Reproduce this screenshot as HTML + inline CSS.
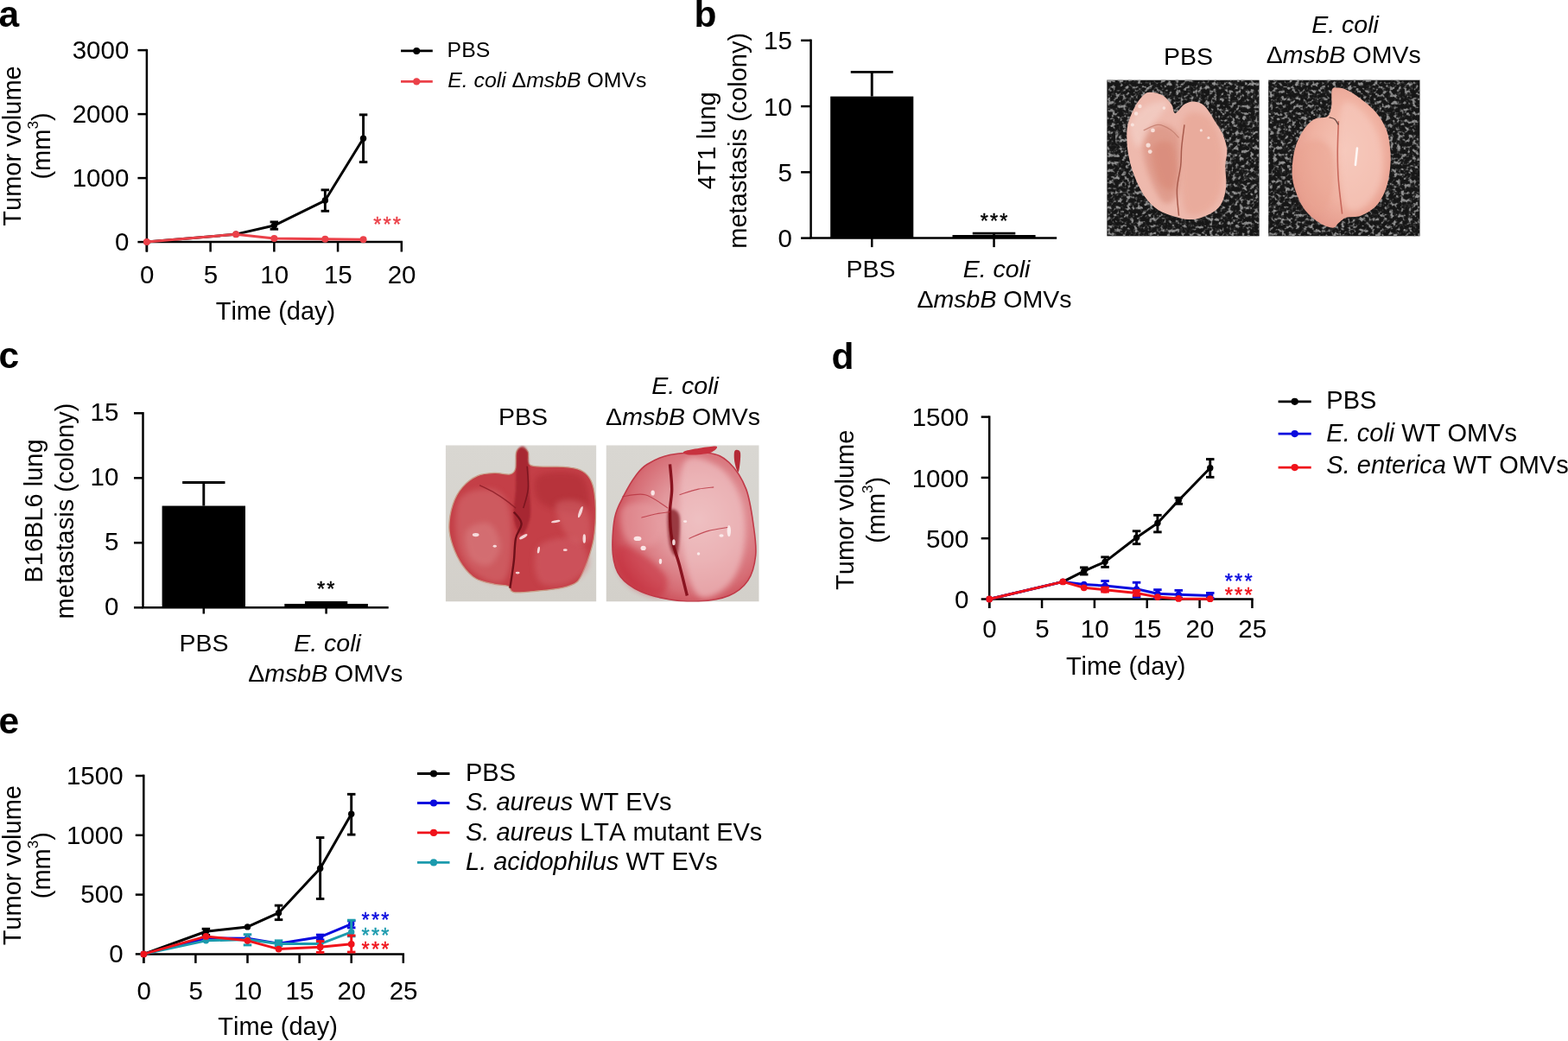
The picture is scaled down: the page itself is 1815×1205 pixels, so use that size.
<!DOCTYPE html><html><head><meta charset="utf-8"><title>Figure</title><style>html,body{margin:0;padding:0;background:#fff;overflow:hidden}svg{display:block}text{font-family:"Liberation Sans", Arial, Helvetica, sans-serif;font-kerning:none;}</style></head><body>
<svg width="1815" height="1205" viewBox="0 0 1815 1205">
<defs>
<clipPath id="cb1"><rect x="1281.2" y="92.4" width="176.6" height="181.2"/></clipPath>
<clipPath id="cb2"><rect x="1468.1" y="92.4" width="175.6" height="181.2"/></clipPath>
<clipPath id="cc1"><rect x="515.7" y="515.3" width="174.7" height="181.2"/></clipPath>
<clipPath id="cc2"><rect x="701.5" y="515.3" width="177.2" height="181.2"/></clipPath>
<filter id="speck" x="0" y="0" width="100%" height="100%" color-interpolation-filters="sRGB"><feTurbulence type="fractalNoise" baseFrequency="0.23" numOctaves="2" seed="11"/><feColorMatrix type="matrix" values="0 0 0 0 0.58  0 0 0 0 0.58  0 0 0 0 0.58  1 0 0 0 0"/><feComponentTransfer><feFuncA type="table" tableValues="0 0 0 0 0 0.2 0.8 1 1 1"/></feComponentTransfer><feGaussianBlur stdDeviation="0.35"/></filter>
<filter id="blur3" x="-20%" y="-20%" width="140%" height="140%"><feGaussianBlur stdDeviation="3"/></filter>
<filter id="blur2" x="-30%" y="-30%" width="160%" height="160%"><feGaussianBlur stdDeviation="1.8"/></filter>
<filter id="blur1" x="-30%" y="-30%" width="160%" height="160%"><feGaussianBlur stdDeviation="0.9"/></filter>
<radialGradient id="pinkb1" cx="0.5" cy="0.55" r="0.6"><stop offset="0" stop-color="#e0988a"/><stop offset="0.6" stop-color="#e8ada2"/><stop offset="1" stop-color="#f1cbc2"/></radialGradient>
<radialGradient id="pinkb2" cx="0.55" cy="0.45" r="0.6"><stop offset="0" stop-color="#f6c6b8"/><stop offset="0.6" stop-color="#f0b2a2"/><stop offset="1" stop-color="#e4998a"/></radialGradient>
<radialGradient id="redc1" cx="0.5" cy="0.5" r="0.6"><stop offset="0" stop-color="#c63e4c"/><stop offset="0.75" stop-color="#c43b49"/><stop offset="1" stop-color="#a82636"/></radialGradient>
<radialGradient id="redc2" cx="0.6" cy="0.45" r="0.62"><stop offset="0" stop-color="#ecbcbe"/><stop offset="0.45" stop-color="#e2979c"/><stop offset="0.8" stop-color="#d66c74"/><stop offset="1" stop-color="#c8444f"/></radialGradient>
<linearGradient id="bgc" x1="0" y1="0" x2="0" y2="1"><stop offset="0" stop-color="#d9d7d2"/><stop offset="1" stop-color="#d3d0ca"/></linearGradient>
</defs>
<rect width="1815" height="1205" fill="#fff"/>
<text x="-1.5" y="30.8" font-size="42.5" text-anchor="start" fill="#000" font-weight="bold" >a</text>
<line x1="169.9" y1="56.85" x2="169.9" y2="291.5" stroke="#000" stroke-width="2.5" />
<line x1="168.65" y1="280.1" x2="466.05" y2="280.1" stroke="#000" stroke-width="2.5" />
<line x1="159.4" y1="280.1" x2="169.9" y2="280.1" stroke="#000" stroke-width="2.5" />
<text x="149.3" y="289.8" font-size="29.5" text-anchor="end" fill="#000" >0</text>
<line x1="159.4" y1="206.1" x2="169.9" y2="206.1" stroke="#000" stroke-width="2.5" />
<text x="149.3" y="215.8" font-size="29.5" text-anchor="end" fill="#000" >1000</text>
<line x1="159.4" y1="132.1" x2="169.9" y2="132.1" stroke="#000" stroke-width="2.5" />
<text x="149.3" y="141.8" font-size="29.5" text-anchor="end" fill="#000" >2000</text>
<line x1="159.4" y1="58.1" x2="169.9" y2="58.1" stroke="#000" stroke-width="2.5" />
<text x="149.3" y="67.8" font-size="29.5" text-anchor="end" fill="#000" >3000</text>
<line x1="169.9" y1="280.1" x2="169.9" y2="291.5" stroke="#000" stroke-width="2.5" />
<text x="170.2" y="328" font-size="29.5" text-anchor="middle" fill="#000" >0</text>
<line x1="243.62" y1="280.1" x2="243.62" y2="291.5" stroke="#000" stroke-width="2.5" />
<text x="243.93" y="328" font-size="29.5" text-anchor="middle" fill="#000" >5</text>
<line x1="317.35" y1="280.1" x2="317.35" y2="291.5" stroke="#000" stroke-width="2.5" />
<text x="317.65" y="328" font-size="29.5" text-anchor="middle" fill="#000" >10</text>
<line x1="391.07" y1="280.1" x2="391.07" y2="291.5" stroke="#000" stroke-width="2.5" />
<text x="391.38" y="328" font-size="29.5" text-anchor="middle" fill="#000" >15</text>
<line x1="464.8" y1="280.1" x2="464.8" y2="291.5" stroke="#000" stroke-width="2.5" />
<text x="465.1" y="328" font-size="29.5" text-anchor="middle" fill="#000" >20</text>
<text x="319" y="370.4" font-size="29" text-anchor="middle" fill="#000" >Time (day)</text>
<text transform="translate(24,169) rotate(-90)" font-size="29" text-anchor="middle" >Tumor volume</text>
<text transform="translate(58.4,169) rotate(-90)" font-size="29" text-anchor="middle" >(mm<tspan dy="-14" font-size="17">3</tspan><tspan dy="14">)</tspan></text>
<line x1="317.35" y1="256.94" x2="317.35" y2="265.23" stroke="#000" stroke-width="2.9" />
<line x1="312.6" y1="256.94" x2="322.1" y2="256.94" stroke="#000" stroke-width="2.9" />
<line x1="312.6" y1="265.23" x2="322.1" y2="265.23" stroke="#000" stroke-width="2.9" />
<line x1="376.33" y1="219.86" x2="376.33" y2="244.28" stroke="#000" stroke-width="2.9" />
<line x1="371.58" y1="219.86" x2="381.08" y2="219.86" stroke="#000" stroke-width="2.9" />
<line x1="371.58" y1="244.28" x2="381.08" y2="244.28" stroke="#000" stroke-width="2.9" />
<line x1="420.56" y1="132.84" x2="420.56" y2="187.6" stroke="#000" stroke-width="2.9" />
<line x1="415.81" y1="132.84" x2="425.31" y2="132.84" stroke="#000" stroke-width="2.9" />
<line x1="415.81" y1="187.6" x2="425.31" y2="187.6" stroke="#000" stroke-width="2.9" />
<polyline points="169.9,280.1 273.12,271.15 317.35,261.08 376.33,232.07 420.56,160.22" fill="none" stroke="#000" stroke-width="3.0" stroke-linejoin="round"/>
<circle cx="169.9" cy="280.1" r="3.7" fill="#000"/>
<circle cx="273.12" cy="271.15" r="3.7" fill="#000"/>
<circle cx="317.35" cy="261.08" r="3.7" fill="#000"/>
<circle cx="376.33" cy="232.07" r="3.7" fill="#000"/>
<circle cx="420.56" cy="160.22" r="3.7" fill="#000"/>
<polyline points="169.9,280.1 273.12,271.15 317.35,276.03 376.33,276.77 420.56,277.29" fill="none" stroke="#eb4149" stroke-width="3.0" stroke-linejoin="round"/>
<circle cx="169.9" cy="280.1" r="4.0" fill="#eb4149"/>
<circle cx="273.12" cy="271.15" r="4.0" fill="#eb4149"/>
<circle cx="317.35" cy="276.03" r="4.0" fill="#eb4149"/>
<circle cx="376.33" cy="276.77" r="4.0" fill="#eb4149"/>
<circle cx="420.56" cy="277.29" r="4.0" fill="#eb4149"/>
<text x="436.75" y="267.52" font-size="23.5" text-anchor="middle" fill="#eb4149" stroke="#eb4149" stroke-width="0.45">*</text>
<text x="448.1" y="267.52" font-size="23.5" text-anchor="middle" fill="#eb4149" stroke="#eb4149" stroke-width="0.45">*</text>
<text x="459.45" y="267.52" font-size="23.5" text-anchor="middle" fill="#eb4149" stroke="#eb4149" stroke-width="0.45">*</text>
<line x1="464" y1="58.9" x2="500.8" y2="58.9" stroke="#000" stroke-width="2.8" />
<circle cx="482.2" cy="58.9" r="4.0" fill="#000"/>
<line x1="464" y1="94.4" x2="500.8" y2="94.4" stroke="#eb4149" stroke-width="2.8" />
<circle cx="482.2" cy="94.4" r="4.2" fill="#eb4149"/>
<text x="517.6" y="66" font-size="24.8" text-anchor="start" fill="#000" >PBS</text>
<text x="518.2" y="101.3" font-size="24.8" text-anchor="start" fill="#000" ><tspan font-style="italic">E. coli</tspan> Δ<tspan font-style="italic">msbB</tspan> OMVs</text>
<text x="803.5" y="30.8" font-size="42.5" text-anchor="start" fill="#000" font-weight="bold" >b</text>
<line x1="938.6" y1="45.55" x2="938.6" y2="275.6" stroke="#000" stroke-width="2.5" />
<line x1="937.35" y1="275.6" x2="1223.2" y2="275.6" stroke="#000" stroke-width="2.5" />
<line x1="927.1" y1="275.6" x2="938.6" y2="275.6" stroke="#000" stroke-width="2.5" />
<text x="916.9" y="286.2" font-size="29.5" text-anchor="end" fill="#000" >0</text>
<line x1="927.1" y1="199.33" x2="938.6" y2="199.33" stroke="#000" stroke-width="2.5" />
<text x="916.9" y="209.93" font-size="29.5" text-anchor="end" fill="#000" >5</text>
<line x1="927.1" y1="123.07" x2="938.6" y2="123.07" stroke="#000" stroke-width="2.5" />
<text x="916.9" y="133.67" font-size="29.5" text-anchor="end" fill="#000" >10</text>
<line x1="927.1" y1="46.8" x2="938.6" y2="46.8" stroke="#000" stroke-width="2.5" />
<text x="916.9" y="57.4" font-size="29.5" text-anchor="end" fill="#000" >15</text>
<text transform="translate(828.3,162.8) rotate(-90)" font-size="29" text-anchor="middle" >4T1 lung</text>
<text transform="translate(863.7,162.8) rotate(-90)" font-size="29" text-anchor="middle" >metastasis (colony)</text>
<rect x="961.2" y="111.63" width="96.1" height="163.97" fill="#000"/>
<line x1="1009.25" y1="111.63" x2="1009.25" y2="83.41" stroke="#000" stroke-width="2.9" />
<line x1="984.75" y1="83.41" x2="1033.75" y2="83.41" stroke="#000" stroke-width="2.9" />
<line x1="1009.25" y1="275.6" x2="1009.25" y2="286.1" stroke="#000" stroke-width="2.5" />
<rect x="1102.5" y="272" width="96.1" height="3.6" fill="#000"/>
<line x1="1150.55" y1="272" x2="1150.55" y2="270.09" stroke="#000" stroke-width="2.9" />
<line x1="1125.8" y1="270.09" x2="1175.3" y2="270.09" stroke="#000" stroke-width="2.9" />
<line x1="1150.55" y1="275.6" x2="1150.55" y2="286.1" stroke="#000" stroke-width="2.5" />
<text x="1008" y="320.9" font-size="28.5" text-anchor="middle" fill="#000" >PBS</text>
<text x="1153.5" y="320.9" font-size="28.5" text-anchor="middle" fill="#000" ><tspan font-style="italic">E. coli</tspan></text>
<text x="1151" y="355.5" font-size="28.5" text-anchor="middle" fill="#000" >Δ<tspan font-style="italic">msbB</tspan> OMVs</text>
<text x="1139.25" y="263.72" font-size="23.5" text-anchor="middle" fill="#000" stroke="#000" stroke-width="0.45">*</text>
<text x="1150.6" y="263.72" font-size="23.5" text-anchor="middle" fill="#000" stroke="#000" stroke-width="0.45">*</text>
<text x="1161.95" y="263.72" font-size="23.5" text-anchor="middle" fill="#000" stroke="#000" stroke-width="0.45">*</text>
<text x="-1.5" y="425.8" font-size="42.5" text-anchor="start" fill="#000" font-weight="bold" >c</text>
<line x1="165.5" y1="477.05" x2="165.5" y2="703.3" stroke="#000" stroke-width="2.5" />
<line x1="164.25" y1="703.3" x2="449.7" y2="703.3" stroke="#000" stroke-width="2.5" />
<line x1="155" y1="703.3" x2="165.5" y2="703.3" stroke="#000" stroke-width="2.5" />
<text x="137.3" y="712.4" font-size="29.5" text-anchor="end" fill="#000" >0</text>
<line x1="155" y1="628.3" x2="165.5" y2="628.3" stroke="#000" stroke-width="2.5" />
<text x="137.3" y="637.4" font-size="29.5" text-anchor="end" fill="#000" >5</text>
<line x1="155" y1="553.3" x2="165.5" y2="553.3" stroke="#000" stroke-width="2.5" />
<text x="137.3" y="562.4" font-size="29.5" text-anchor="end" fill="#000" >10</text>
<line x1="155" y1="478.3" x2="165.5" y2="478.3" stroke="#000" stroke-width="2.5" />
<text x="137.3" y="487.4" font-size="29.5" text-anchor="end" fill="#000" >15</text>
<text transform="translate(49.1,591.5) rotate(-90)" font-size="29" text-anchor="middle" >B16BL6 lung</text>
<text transform="translate(84.7,591.5) rotate(-90)" font-size="29" text-anchor="middle" >metastasis (colony)</text>
<rect x="187.6" y="585.55" width="96.4" height="117.75" fill="#000"/>
<line x1="235.8" y1="585.55" x2="235.8" y2="558.55" stroke="#000" stroke-width="2.9" />
<line x1="211.15" y1="558.55" x2="260.45" y2="558.55" stroke="#000" stroke-width="2.9" />
<line x1="235.8" y1="703.3" x2="235.8" y2="710.5" stroke="#000" stroke-width="2.5" />
<rect x="329.3" y="698.95" width="96.6" height="4.35" fill="#000"/>
<line x1="377.6" y1="698.95" x2="377.6" y2="697.45" stroke="#000" stroke-width="2.9" />
<line x1="352.95" y1="697.45" x2="402.25" y2="697.45" stroke="#000" stroke-width="2.9" />
<line x1="377.6" y1="703.3" x2="377.6" y2="710.5" stroke="#000" stroke-width="2.5" />
<text x="236" y="753.9" font-size="28.5" text-anchor="middle" fill="#000" >PBS</text>
<text x="379" y="753.9" font-size="28.5" text-anchor="middle" fill="#000" ><tspan font-style="italic">E. coli</tspan></text>
<text x="376.8" y="788.5" font-size="28.5" text-anchor="middle" fill="#000" >Δ<tspan font-style="italic">msbB</tspan> OMVs</text>
<text x="371.52" y="689.62" font-size="23.5" text-anchor="middle" fill="#000" stroke="#000" stroke-width="0.45">*</text>
<text x="382.88" y="689.62" font-size="23.5" text-anchor="middle" fill="#000" stroke="#000" stroke-width="0.45">*</text>
<text x="1375.5" y="74.9" font-size="28.5" text-anchor="middle" fill="#000" >PBS</text>
<text x="1557" y="38.2" font-size="28.5" text-anchor="middle" fill="#000" ><tspan font-style="italic">E. coli</tspan></text>
<text x="1555.2" y="73.1" font-size="28.5" text-anchor="middle" fill="#000" >Δ<tspan font-style="italic">msbB</tspan> OMVs</text>
<g clip-path="url(#cb1)"><rect x="1281.2" y="92.4" width="176.6" height="181.2" fill="#161616"/><rect x="1281.2" y="92.4" width="176.6" height="181.2" filter="url(#speck)"/>
<path d="M1330.16,106.86 C1334.1,106.5 1340.91,107.75 1345.2,110.08 C1349.5,112.41 1353.44,117.32 1355.95,120.83 C1358.45,124.33 1357.74,131.14 1360.24,131.14 C1362.75,131.14 1367.41,123.08 1370.99,120.83 C1374.57,118.57 1377.79,117.24 1381.73,117.6 C1385.67,117.96 1390.33,118.86 1394.62,122.97 C1398.92,127.09 1403.93,136.58 1407.52,142.31 C1411.1,148.04 1413.96,151.98 1416.11,157.35 C1418.26,162.72 1420.05,168.81 1420.41,174.54 C1420.77,180.27 1418.44,185.29 1418.26,191.73 C1418.08,198.18 1419.69,206.77 1419.33,213.22 C1418.98,219.66 1418.08,225.39 1416.11,230.41 C1414.14,235.42 1411.81,239.72 1407.52,243.3 C1403.22,246.88 1395.7,250.1 1390.33,251.9 C1384.95,253.69 1380.3,254.22 1375.29,254.04 C1370.27,253.86 1365.97,252.61 1360.24,250.82 C1354.52,249.03 1346.82,247.24 1340.91,243.3 C1335,239.36 1329.45,233.81 1324.79,227.19 C1320.14,220.56 1316.02,211.25 1312.97,203.55 C1309.93,195.85 1307.96,187.97 1306.53,180.99 C1305.1,174.01 1304.56,167.74 1304.38,161.65 C1304.2,155.56 1304.02,150.55 1305.45,144.46 C1306.89,138.37 1310.29,130.49 1312.97,125.12 C1315.66,119.75 1318.7,115.27 1321.57,112.23 C1324.43,109.19 1326.22,107.22 1330.16,106.86 Z" fill="#eeb9ad"/>
<path d="M1325.87,150.91 C1329.81,145.18 1340.91,143.39 1347.35,144.46 C1353.8,145.54 1361.32,149.47 1364.54,157.35 C1367.77,165.23 1367.05,180.27 1366.69,191.73 C1366.33,203.19 1365.62,218.95 1362.39,226.11 C1359.17,233.27 1352.37,237.57 1347.35,234.71 C1342.34,231.84 1336.25,218.23 1332.31,208.92 C1328.37,199.61 1324.79,188.51 1323.72,178.84 C1322.64,169.17 1321.93,156.64 1325.87,150.91 Z" fill="#dc9585" opacity="0.8" filter="url(#blur3)"/>
<path d="M1334.46,170.24 C1336.97,163.08 1351.29,161.29 1355.95,165.95 C1360.6,170.6 1362.39,189.23 1362.39,198.18 C1362.39,207.13 1359.53,217.87 1355.95,219.66 C1352.37,221.46 1344.49,217.16 1340.91,208.92 C1337.33,200.68 1331.95,177.41 1334.46,170.24 Z" fill="#d88674" opacity="0.6" filter="url(#blur3)"/>
<path d="M1370.99,135.87 C1376.36,126.55 1391.76,130.14 1398.92,135.87 C1406.08,141.6 1411.46,156.64 1413.96,170.24 C1416.47,183.85 1416.47,205.34 1413.96,217.52 C1411.46,229.69 1405.73,238.64 1398.92,243.3 C1392.12,247.96 1378.51,254.04 1373.14,245.45 C1367.77,236.85 1367.05,210 1366.69,191.73 C1366.33,173.47 1365.62,145.18 1370.99,135.87 Z" fill="#e8a898" opacity="0.8" filter="url(#blur3)"/>
<path d="M1308.68,144.46 C1310.11,136.58 1318.7,127.27 1325.87,122.97 C1333.03,118.68 1350.22,115.1 1351.65,118.68 C1353.08,122.26 1340.19,135.87 1334.46,144.46 C1328.73,153.06 1321.57,170.24 1317.27,170.24 C1312.97,170.24 1307.24,152.34 1308.68,144.46 Z" fill="#f4d4cc" opacity="0.6" filter="url(#blur3)"/>
<path d="M1370.99,144.46 C1370.45,148.76 1368.48,162.37 1367.77,170.24 C1367.05,178.12 1367.59,183.5 1366.69,191.73 C1365.8,199.97 1362.75,210 1362.39,219.66 C1362.04,229.33 1364.18,244.73 1364.54,249.75" stroke="#a85a4c" stroke-width="1.5" fill="none"/>
<path d="M1323.72,150.91 C1326.58,149.83 1335.54,144.46 1340.91,144.46 C1346.28,144.46 1352.01,148.4 1355.95,150.91 C1359.89,153.41 1363.11,158.07 1364.54,159.5" stroke="#c07a6c" stroke-width="1.2" fill="none" opacity="0.8"/>
<circle cx="1329.09" cy="168.1" r="2.6" fill="#fae6e0" opacity="0.9"/>
<circle cx="1331.24" cy="175.62" r="2.4" fill="#fae6e0" opacity="0.9"/>
<circle cx="1319.42" cy="122.97" r="2.2" fill="#fae6e0" opacity="0.9"/>
<circle cx="1315.12" cy="131.57" r="2.2" fill="#fae6e0" opacity="0.9"/>
<circle cx="1334.46" cy="150.91" r="2.4" fill="#fae6e0" opacity="0.9"/>
<circle cx="1310.83" cy="144.46" r="2.0" fill="#fae6e0" opacity="0.9"/>
<circle cx="1347.35" cy="125.12" r="1.8" fill="#fae6e0" opacity="0.9"/>
<circle cx="1390.33" cy="150.91" r="1.6" fill="#fae6e0" opacity="0.9"/>
<circle cx="1398.92" cy="159.5" r="1.6" fill="#fae6e0" opacity="0.9"/>
</g>
<g clip-path="url(#cb2)"><rect x="1468.1" y="92.4" width="175.6" height="181.2" fill="#161616"/><rect x="1468.1" y="92.4" width="175.6" height="181.2" filter="url(#speck)"/>
<path d="M1541.81,103.64 C1543.17,100.05 1546.29,101.31 1549.33,101.49 C1552.37,101.67 1555.78,102.56 1560.07,104.71 C1564.37,106.86 1569.74,110.26 1575.11,114.38 C1580.49,118.5 1587.29,123.33 1592.3,129.42 C1597.32,135.51 1602.33,143.03 1605.2,150.91 C1608.06,158.79 1608.96,168.45 1609.49,176.69 C1610.03,184.93 1609.49,192.81 1608.42,200.33 C1607.34,207.85 1605.73,215.37 1603.05,221.81 C1600.36,228.26 1596.96,234.35 1592.3,239 C1587.65,243.66 1580.84,247.6 1575.11,249.75 C1569.38,251.9 1562.22,250.46 1557.92,251.9 C1553.63,253.33 1551.84,256.37 1549.33,258.34 C1546.82,260.31 1546.46,263.71 1542.88,263.71 C1539.3,263.71 1533.21,261.74 1527.84,258.34 C1522.47,254.94 1515.31,249.39 1510.65,243.3 C1506,237.21 1502.42,228.98 1499.91,221.81 C1497.4,214.65 1495.79,208.56 1495.61,200.33 C1495.43,192.09 1496.69,180.63 1498.84,172.39 C1500.98,164.16 1504.74,156.64 1508.5,150.91 C1512.26,145.18 1516.74,140.7 1521.4,138.01 C1526.05,135.33 1533.14,137.3 1536.44,134.79 C1539.73,132.28 1540.27,128.17 1541.16,122.97 C1542.06,117.78 1540.45,107.22 1541.81,103.64 Z" fill="url(#pinkb2)"/>
<path d="M1553.63,122.97 C1557.57,112.95 1567.95,120.83 1575.11,127.27 C1582.28,133.72 1592.66,148.04 1596.6,161.65 C1600.54,175.26 1601.61,196.03 1598.75,208.92 C1595.88,221.81 1586.22,233.99 1579.41,239 C1572.61,244.02 1562.58,247.6 1557.92,239 C1553.27,230.41 1552.19,206.77 1551.48,187.43 C1550.76,168.1 1549.69,133 1553.63,122.97 Z" fill="#f7cbbf" opacity="0.6" filter="url(#blur3)"/>
<path d="M1502.06,176.69 C1504.92,165.23 1516.74,161.65 1523.55,161.65 C1530.35,161.65 1539.66,167.02 1542.88,176.69 C1546.11,186.36 1545.39,207.85 1542.88,219.66 C1540.38,231.48 1533.93,245.81 1527.84,247.6 C1521.75,249.39 1510.65,242.23 1506.36,230.41 C1502.06,218.59 1499.19,188.15 1502.06,176.69 Z" fill="#e9a290" opacity="0.55" filter="url(#blur3)"/>
<rect x="1568.67" y="170.24" width="2.6" height="22" rx="1.3" fill="#fff" opacity="0.85" transform="rotate(6 1569.74 180.99)"/>
<path d="M1549.33,140.16 C1549.15,146.25 1548.26,165.23 1548.26,176.69 C1548.26,188.15 1548.43,197.1 1549.33,208.92 C1550.22,220.74 1552.91,241.15 1553.63,247.6" stroke="#c8685c" stroke-width="1.6" fill="none"/>
<path d="M1538.59,135.87 C1539.66,136.22 1543.24,136.58 1545.03,138.01 C1546.82,139.45 1548.61,143.39 1549.33,144.46" stroke="#6a4a44" stroke-width="1.4" fill="none"/>
</g>
<text x="605.5" y="492.2" font-size="28.5" text-anchor="middle" fill="#000" >PBS</text>
<text x="793" y="455.6" font-size="28.5" text-anchor="middle" fill="#000" ><tspan font-style="italic">E. coli</tspan></text>
<text x="790.6" y="492" font-size="28.5" text-anchor="middle" fill="#000" >Δ<tspan font-style="italic">msbB</tspan> OMVs</text>
<g clip-path="url(#cc1)"><rect x="515.7" y="515.3" width="174.7" height="181.2" fill="url(#bgc)"/>
<path d="M602.48,518.73 C604.79,518.55 609.27,519.83 611.29,523.14 C613.31,526.45 607.81,535.7 614.6,538.57 C621.4,541.43 643.07,539.6 652.07,540.33 C661.07,541.07 664,541.43 668.6,542.98 C673.19,544.52 676.68,546.46 679.61,549.59 C682.55,552.71 684.65,556.75 686.23,561.71 C687.81,566.67 688.54,573.09 689.09,579.34 C689.64,585.58 689.83,591.83 689.53,599.17 C689.24,606.52 688.43,616.44 687.33,623.42 C686.23,630.39 684.76,635.17 682.92,641.05 C681.08,646.92 678.88,653.17 676.31,658.68 C673.74,664.19 671.9,670.43 667.49,674.1 C663.09,677.78 657.21,679.06 649.86,680.72 C642.52,682.37 632.6,683.21 623.42,684.02 C614.23,684.83 600.64,686.48 594.77,685.56 C588.89,684.65 591.83,680.06 588.15,678.51 C584.48,676.97 578.97,677.78 572.73,676.31 C566.48,674.84 556.93,673.37 550.69,669.7 C544.44,666.02 539.67,660.51 535.26,654.27 C530.85,648.03 526.81,639.58 524.24,632.23 C521.67,624.89 519.83,618.27 519.83,610.19 C519.83,602.11 521.67,591.46 524.24,583.75 C526.81,576.03 530.49,569.42 535.26,563.91 C540.04,558.4 546.65,553.44 552.89,550.69 C559.14,547.93 566.48,547.68 572.73,547.38 C578.97,547.09 586.32,549.84 590.36,548.93 C594.4,548.01 595.79,545.99 596.97,541.87 C598.15,537.76 596.49,528.1 597.41,524.24 C598.33,520.39 600.17,518.92 602.48,518.73 Z" fill="#c43f47" stroke="#c9a08a" stroke-width="1.3"/>
<path d="M530.85,579.34 C536.73,567.58 556.57,565.38 566.12,566.12 C575.67,566.85 583.75,572.73 588.15,583.75 C592.56,594.77 593.3,617.54 592.56,632.23 C591.83,646.92 589.99,666.02 583.75,671.9 C577.5,677.78 563.91,673.37 555.1,667.49 C546.28,661.62 534.89,651.33 530.85,636.64 C526.81,621.95 524.98,591.09 530.85,579.34 Z" fill="#d46c70" opacity="0.6" filter="url(#blur3)"/>
<path d="M539.67,614.6 C543.34,607.99 559.5,602.85 566.12,605.79 C572.73,608.72 579.34,624.15 579.34,632.23 C579.34,640.31 571.99,652.07 566.12,654.27 C560.24,656.47 548.48,652.07 544.08,645.45 C539.67,638.84 536,621.21 539.67,614.6 Z" fill="#dc8688" opacity="0.45" filter="url(#blur3)"/>
<path d="M623.42,550.69 C631.5,545.91 662.35,544.44 671.9,550.69 C681.45,556.93 683.65,581.18 680.72,588.15 C677.78,595.13 663.82,594.03 654.27,592.56 C644.72,591.09 628.56,586.32 623.42,579.34 C618.27,572.36 615.34,555.46 623.42,550.69 Z" fill="#a8262f" opacity="0.45" filter="url(#blur3)"/>
<path d="M623.42,632.23 C630.76,624.15 657.94,619.74 667.49,623.42 C677.04,627.09 682.92,645.45 680.72,654.27 C678.51,663.09 663.82,673.37 654.27,676.31 C644.72,679.25 628.56,679.25 623.42,671.9 C618.27,664.55 616.07,640.31 623.42,632.23 Z" fill="#d3626a" opacity="0.55" filter="url(#blur3)"/>
<path d="M643.25,583.75 C646.19,577.13 669.7,577.13 676.31,583.75 C682.92,590.36 685.86,616.8 682.92,623.42 C679.98,630.03 665.29,630.03 658.68,623.42 C652.07,616.8 640.31,590.36 643.25,583.75 Z" fill="#d66b70" opacity="0.5" filter="url(#blur3)"/>
<path d="M599.17,522.04 C601.38,514.69 607.92,514.69 610.19,522.04 C612.47,529.38 612.29,553.26 612.84,566.12 C613.39,578.97 615.04,590.36 613.5,599.17 C611.96,607.99 606.7,619.01 603.58,619.01 C600.46,619.01 595.87,607.99 594.77,599.17 C593.66,590.36 596.24,578.97 596.97,566.12 C597.7,553.26 596.97,529.38 599.17,522.04 Z" fill="#a0232d" opacity="0.8" filter="url(#blur1)"/>
<path d="M594.77,592.56 C596.24,594.77 603.21,600.64 603.58,605.79 C603.95,610.93 598.44,616.07 596.97,623.42 C595.5,630.76 595.87,640.31 594.77,649.86 C593.66,659.41 591.09,675.57 590.36,680.72" stroke="#6e1019" stroke-width="2.4" fill="none"/>
<path d="M610.19,539.67 C610.38,544.08 612.03,558.03 611.29,566.12 C610.56,574.2 606.7,584.48 605.79,588.15" stroke="#7c1620" stroke-width="1.6" fill="none"/>
<path d="M555.1,561.71 C558.03,563.18 567.58,567.58 572.73,570.52 C577.87,573.46 581.91,576.4 585.95,579.34 C589.99,582.28 595.13,586.69 596.97,588.15" stroke="#8a1a24" stroke-width="1.4" fill="none" opacity="0.8"/>
<ellipse cx="550.69" cy="619.01" rx="3.88" ry="2.12" fill="#fbeeee" opacity="0.85" transform="rotate(0 550.69 619.01)"/>
<ellipse cx="605.79" cy="621.21" rx="5.29" ry="1.76" fill="#fbeeee" opacity="0.85" transform="rotate(-30 605.79 621.21)"/>
<ellipse cx="643.25" cy="603.58" rx="5.29" ry="1.41" fill="#fbeeee" opacity="0.85" transform="rotate(-10 643.25 603.58)"/>
<ellipse cx="671.9" cy="592.56" rx="1.76" ry="7.05" fill="#fbeeee" opacity="0.85" transform="rotate(20 671.9 592.56)"/>
<ellipse cx="676.31" cy="623.42" rx="1.76" ry="5.29" fill="#fbeeee" opacity="0.85" transform="rotate(0 676.31 623.42)"/>
<ellipse cx="623.42" cy="636.64" rx="1.41" ry="3.88" fill="#fbeeee" opacity="0.85" transform="rotate(10 623.42 636.64)"/>
<ellipse cx="599.17" cy="663.09" rx="2.47" ry="1.41" fill="#fbeeee" opacity="0.85" transform="rotate(0 599.17 663.09)"/>
<ellipse cx="572.73" cy="632.23" rx="2.12" ry="1.41" fill="#fbeeee" opacity="0.85" transform="rotate(0 572.73 632.23)"/>
<ellipse cx="654.27" cy="636.64" rx="2.47" ry="1.41" fill="#fbeeee" opacity="0.85" transform="rotate(0 654.27 636.64)"/>
</g>
<g clip-path="url(#cc2)"><rect x="701.5" y="515.3" width="177.2" height="181.2" fill="url(#bgc)"/>
<path d="M749.04,537.47 C755.65,533.43 763.73,528.65 775.48,526.45 C787.24,524.24 808.17,522.77 819.56,524.24 C830.95,525.71 836.46,528.28 843.8,535.26 C851.15,542.24 858.86,553.63 863.64,566.12 C868.41,578.6 870.62,597.34 872.45,610.19 C874.29,623.05 875.76,632.97 874.66,643.25 C873.55,653.54 870.98,664.19 865.84,671.9 C860.7,679.61 853.35,685.49 843.8,689.53 C834.25,693.57 819.93,695.41 808.54,696.14 C797.15,696.88 786.5,695.78 775.48,693.94 C764.46,692.1 751.97,689.53 742.42,685.12 C732.87,680.72 723.69,674.84 718.18,667.49 C712.67,660.15 710.47,652.43 709.37,641.05 C708.26,629.66 709.37,610.56 711.57,599.17 C713.77,587.79 718.55,580.81 722.59,572.73 C726.63,564.65 731.4,556.57 735.81,550.69 C740.22,544.81 742.42,541.51 749.04,537.47 Z" fill="url(#redc2)" stroke="#c03a48" stroke-width="1.6"/>
<path d="M790.91,537.47 C797.52,522.04 819.56,533.06 830.58,539.67 C841.6,546.28 851.88,561.71 857.02,577.13 C862.17,592.56 863.64,615.7 861.43,632.23 C859.23,648.76 852.62,666.76 843.8,676.31 C834.99,685.86 817.36,696.88 808.54,689.53 C799.72,682.19 793.85,657.58 790.91,632.23 C787.97,606.89 784.3,552.89 790.91,537.47 Z" fill="#f0c2c4" opacity="0.65" filter="url(#blur3)"/>
<path d="M715.98,632.23 C720.39,629.29 733.24,635.17 742.42,641.05 C751.61,646.92 767.4,659.41 771.07,667.49 C774.75,675.57 770.71,687.33 764.46,689.53 C758.22,691.74 741.69,685.86 733.61,680.72 C725.53,675.57 718.92,666.76 715.98,658.68 C713.04,650.6 711.57,635.17 715.98,632.23 Z" fill="#c8323f" opacity="0.55" filter="url(#blur3)"/>
<path d="M720.39,588.15 C725.16,581.54 745.36,580.07 753.44,583.75 C761.52,587.42 768.87,602.11 768.87,610.19 C768.87,618.27 760.79,630.03 753.44,632.23 C746.1,634.44 730.3,630.76 724.79,623.42 C719.28,616.07 715.61,594.77 720.39,588.15 Z" fill="#e8a0a4" opacity="0.5" filter="url(#blur3)"/>
<path d="M793.11,522.04 C798.26,520.39 823.6,516.16 828.37,516.53 C833.15,516.9 826.91,522.59 821.76,524.24 C816.62,525.9 802.3,526.81 797.52,526.45 C792.75,526.08 787.97,523.69 793.11,522.04 Z" fill="#c8323f"/>
<path d="M850.41,522.04 C851.52,520.2 856.29,520.2 857.02,524.24 C857.76,528.28 855.92,544.44 854.82,546.28 C853.72,548.12 851.15,539.3 850.41,535.26 C849.68,531.22 849.31,523.88 850.41,522.04 Z" fill="#b42a36"/>
<path d="M775.48,537.47 C775.85,542.24 777.69,556.93 777.69,566.12 C777.69,575.3 775.48,583.01 775.48,592.56 C775.48,602.11 775.85,613.13 777.69,623.42 C779.52,633.7 783.56,643.25 786.5,654.27 C789.44,665.29 793.85,683.65 795.32,689.53" stroke="#8a1420" stroke-width="3.4" fill="none"/>
<path d="M773.28,592.56 C775.11,586.69 784.66,588.89 786.5,596.97 C788.34,605.05 786.13,635.17 784.3,641.05 C782.46,646.92 777.32,640.31 775.48,632.23 C773.65,624.15 771.44,598.44 773.28,592.56 Z" fill="#7a1018" opacity="0.7" filter="url(#blur2)"/>
<path d="M720.39,574.93 C724.79,574.56 738.02,570.52 746.83,572.73 C755.65,574.93 768.87,585.58 773.28,588.15" stroke="#b8323f" stroke-width="1.1" fill="none" opacity="0.8"/>
<path d="M786.5,572.73 C790.17,571.63 801.93,567.58 808.54,566.12 C815.15,564.65 823.23,564.28 826.17,563.91" stroke="#b8323f" stroke-width="1.1" fill="none" opacity="0.8"/>
<path d="M797.52,623.42 C801.19,621.95 811.85,616.8 819.56,614.6 C827.27,612.4 839.76,610.93 843.8,610.19" stroke="#b8323f" stroke-width="1.1" fill="none" opacity="0.8"/>
<path d="M742.42,599.17 C745.36,598.44 754.55,595.87 760.06,594.77 C765.56,593.66 772.91,592.93 775.48,592.56" stroke="#b8323f" stroke-width="1.1" fill="none" opacity="0.8"/>
<ellipse cx="755.65" cy="570.52" rx="2.2" ry="3.09" fill="#fdf0f0" opacity="0.9"/>
<ellipse cx="738.02" cy="623.42" rx="4.41" ry="2.64" fill="#fdf0f0" opacity="0.9"/>
<ellipse cx="744.63" cy="634.44" rx="3.09" ry="2.64" fill="#fdf0f0" opacity="0.9"/>
<ellipse cx="843.8" cy="614.6" rx="2.2" ry="6.61" fill="#fdf0f0" opacity="0.9"/>
<ellipse cx="834.99" cy="620.11" rx="2.64" ry="1.76" fill="#fdf0f0" opacity="0.9"/>
<ellipse cx="779.89" cy="627.82" rx="1.76" ry="3.53" fill="#fdf0f0" opacity="0.9"/>
<ellipse cx="808.54" cy="641.05" rx="1.76" ry="1.76" fill="#fdf0f0" opacity="0.9"/>
<ellipse cx="793.11" cy="603.58" rx="2.2" ry="1.32" fill="#fdf0f0" opacity="0.9"/>
<ellipse cx="764.46" cy="649.86" rx="1.76" ry="3.09" fill="#fdf0f0" opacity="0.9"/>
</g>
<text x="962.5" y="426.8" font-size="42.5" text-anchor="start" fill="#000" font-weight="bold" >d</text>
<line x1="1145.2" y1="481.35" x2="1145.2" y2="704" stroke="#000" stroke-width="2.5" />
<line x1="1143.95" y1="693.5" x2="1450.7" y2="693.5" stroke="#000" stroke-width="2.5" />
<line x1="1135.7" y1="693.5" x2="1145.2" y2="693.5" stroke="#000" stroke-width="2.5" />
<text x="1121.3" y="704.1" font-size="29.5" text-anchor="end" fill="#000" >0</text>
<line x1="1135.7" y1="623.2" x2="1145.2" y2="623.2" stroke="#000" stroke-width="2.5" />
<text x="1121.3" y="633.8" font-size="29.5" text-anchor="end" fill="#000" >500</text>
<line x1="1135.7" y1="552.9" x2="1145.2" y2="552.9" stroke="#000" stroke-width="2.5" />
<text x="1121.3" y="563.5" font-size="29.5" text-anchor="end" fill="#000" >1000</text>
<line x1="1135.7" y1="482.6" x2="1145.2" y2="482.6" stroke="#000" stroke-width="2.5" />
<text x="1121.3" y="493.2" font-size="29.5" text-anchor="end" fill="#000" >1500</text>
<line x1="1145.2" y1="693.5" x2="1145.2" y2="704" stroke="#000" stroke-width="2.5" />
<text x="1145.5" y="738.3" font-size="29.5" text-anchor="middle" fill="#000" >0</text>
<line x1="1206.05" y1="693.5" x2="1206.05" y2="704" stroke="#000" stroke-width="2.5" />
<text x="1206.35" y="738.3" font-size="29.5" text-anchor="middle" fill="#000" >5</text>
<line x1="1266.9" y1="693.5" x2="1266.9" y2="704" stroke="#000" stroke-width="2.5" />
<text x="1267.2" y="738.3" font-size="29.5" text-anchor="middle" fill="#000" >10</text>
<line x1="1327.75" y1="693.5" x2="1327.75" y2="704" stroke="#000" stroke-width="2.5" />
<text x="1328.05" y="738.3" font-size="29.5" text-anchor="middle" fill="#000" >15</text>
<line x1="1388.6" y1="693.5" x2="1388.6" y2="704" stroke="#000" stroke-width="2.5" />
<text x="1388.9" y="738.3" font-size="29.5" text-anchor="middle" fill="#000" >20</text>
<line x1="1449.45" y1="693.5" x2="1449.45" y2="704" stroke="#000" stroke-width="2.5" />
<text x="1449.75" y="738.3" font-size="29.5" text-anchor="middle" fill="#000" >25</text>
<text x="1303.2" y="781" font-size="29" text-anchor="middle" fill="#000" >Time (day)</text>
<text transform="translate(988,590.3) rotate(-90)" font-size="29" text-anchor="middle" >Tumor volume</text>
<text transform="translate(1023.5,590.3) rotate(-90)" font-size="29" text-anchor="middle" >(mm<tspan dy="-14" font-size="17">3</tspan><tspan dy="14">)</tspan></text>
<line x1="1254.73" y1="656.94" x2="1254.73" y2="664.96" stroke="#000" stroke-width="2.9" />
<line x1="1249.98" y1="656.94" x2="1259.48" y2="656.94" stroke="#000" stroke-width="2.9" />
<line x1="1249.98" y1="664.96" x2="1259.48" y2="664.96" stroke="#000" stroke-width="2.9" />
<line x1="1279.07" y1="644.85" x2="1279.07" y2="656.38" stroke="#000" stroke-width="2.9" />
<line x1="1274.32" y1="644.85" x2="1283.82" y2="644.85" stroke="#000" stroke-width="2.9" />
<line x1="1274.32" y1="656.38" x2="1283.82" y2="656.38" stroke="#000" stroke-width="2.9" />
<line x1="1315.58" y1="614.76" x2="1315.58" y2="629.67" stroke="#000" stroke-width="2.9" />
<line x1="1310.83" y1="614.76" x2="1320.33" y2="614.76" stroke="#000" stroke-width="2.9" />
<line x1="1310.83" y1="629.67" x2="1320.33" y2="629.67" stroke="#000" stroke-width="2.9" />
<line x1="1339.92" y1="596.35" x2="1339.92" y2="615.89" stroke="#000" stroke-width="2.9" />
<line x1="1335.17" y1="596.35" x2="1344.67" y2="596.35" stroke="#000" stroke-width="2.9" />
<line x1="1335.17" y1="615.89" x2="1344.67" y2="615.89" stroke="#000" stroke-width="2.9" />
<line x1="1364.26" y1="576.24" x2="1364.26" y2="583.27" stroke="#000" stroke-width="2.9" />
<line x1="1359.51" y1="576.24" x2="1369.01" y2="576.24" stroke="#000" stroke-width="2.9" />
<line x1="1359.51" y1="583.27" x2="1369.01" y2="583.27" stroke="#000" stroke-width="2.9" />
<line x1="1400.77" y1="531.53" x2="1400.77" y2="552.34" stroke="#000" stroke-width="2.9" />
<line x1="1396.02" y1="531.53" x2="1405.52" y2="531.53" stroke="#000" stroke-width="2.9" />
<line x1="1396.02" y1="552.34" x2="1405.52" y2="552.34" stroke="#000" stroke-width="2.9" />
<polyline points="1145.2,693.5 1230.39,673.39 1254.73,661.16 1279.07,650.34 1315.58,622.22 1339.92,605.48 1364.26,579.33 1400.77,541.79" fill="none" stroke="#000" stroke-width="3.0" stroke-linejoin="round"/>
<circle cx="1145.2" cy="693.5" r="3.7" fill="#000"/>
<circle cx="1230.39" cy="673.39" r="3.7" fill="#000"/>
<circle cx="1254.73" cy="661.16" r="3.7" fill="#000"/>
<circle cx="1279.07" cy="650.34" r="3.7" fill="#000"/>
<circle cx="1315.58" cy="622.22" r="3.7" fill="#000"/>
<circle cx="1339.92" cy="605.48" r="3.7" fill="#000"/>
<circle cx="1364.26" cy="579.33" r="3.7" fill="#000"/>
<circle cx="1400.77" cy="541.79" r="3.7" fill="#000"/>
<line x1="1279.07" y1="672.55" x2="1279.07" y2="683.66" stroke="#0a0ade" stroke-width="2.9" />
<line x1="1274.32" y1="672.55" x2="1283.82" y2="672.55" stroke="#0a0ade" stroke-width="2.9" />
<line x1="1274.32" y1="683.66" x2="1283.82" y2="683.66" stroke="#0a0ade" stroke-width="2.9" />
<line x1="1315.58" y1="674.24" x2="1315.58" y2="691.11" stroke="#0a0ade" stroke-width="2.9" />
<line x1="1310.83" y1="674.24" x2="1320.33" y2="674.24" stroke="#0a0ade" stroke-width="2.9" />
<line x1="1310.83" y1="691.11" x2="1320.33" y2="691.11" stroke="#0a0ade" stroke-width="2.9" />
<line x1="1339.92" y1="682.67" x2="1339.92" y2="692.09" stroke="#0a0ade" stroke-width="2.9" />
<line x1="1335.17" y1="682.67" x2="1344.67" y2="682.67" stroke="#0a0ade" stroke-width="2.9" />
<line x1="1335.17" y1="692.09" x2="1344.67" y2="692.09" stroke="#0a0ade" stroke-width="2.9" />
<line x1="1364.26" y1="683.38" x2="1364.26" y2="692.09" stroke="#0a0ade" stroke-width="2.9" />
<line x1="1359.51" y1="683.38" x2="1369.01" y2="683.38" stroke="#0a0ade" stroke-width="2.9" />
<line x1="1359.51" y1="692.09" x2="1369.01" y2="692.09" stroke="#0a0ade" stroke-width="2.9" />
<line x1="1400.77" y1="686.47" x2="1400.77" y2="692.38" stroke="#0a0ade" stroke-width="2.9" />
<line x1="1396.02" y1="686.47" x2="1405.52" y2="686.47" stroke="#0a0ade" stroke-width="2.9" />
<line x1="1396.02" y1="692.38" x2="1405.52" y2="692.38" stroke="#0a0ade" stroke-width="2.9" />
<polyline points="1145.2,693.5 1230.39,673.39 1254.73,676.49 1279.07,678.03 1315.58,681.83 1339.92,687.31 1364.26,688.16 1400.77,689.56" fill="none" stroke="#0a0ade" stroke-width="3.0" stroke-linejoin="round"/>
<circle cx="1145.2" cy="693.5" r="3.7" fill="#0a0ade"/>
<circle cx="1230.39" cy="673.39" r="3.7" fill="#0a0ade"/>
<circle cx="1254.73" cy="676.49" r="3.7" fill="#0a0ade"/>
<circle cx="1279.07" cy="678.03" r="3.7" fill="#0a0ade"/>
<circle cx="1315.58" cy="681.83" r="3.7" fill="#0a0ade"/>
<circle cx="1339.92" cy="687.31" r="3.7" fill="#0a0ade"/>
<circle cx="1364.26" cy="688.16" r="3.7" fill="#0a0ade"/>
<circle cx="1400.77" cy="689.56" r="3.7" fill="#0a0ade"/>
<line x1="1279.07" y1="680.14" x2="1279.07" y2="685.06" stroke="#f0121a" stroke-width="2.9" />
<line x1="1274.32" y1="680.14" x2="1283.82" y2="680.14" stroke="#f0121a" stroke-width="2.9" />
<line x1="1274.32" y1="685.06" x2="1283.82" y2="685.06" stroke="#f0121a" stroke-width="2.9" />
<line x1="1315.58" y1="683.66" x2="1315.58" y2="689.28" stroke="#f0121a" stroke-width="2.9" />
<line x1="1310.83" y1="683.66" x2="1320.33" y2="683.66" stroke="#f0121a" stroke-width="2.9" />
<line x1="1310.83" y1="689.28" x2="1320.33" y2="689.28" stroke="#f0121a" stroke-width="2.9" />
<polyline points="1145.2,693.5 1230.39,673.39 1254.73,680.28 1279.07,682.67 1315.58,686.47 1339.92,691.11 1364.26,692.94 1400.77,693.22" fill="none" stroke="#f0121a" stroke-width="3.0" stroke-linejoin="round"/>
<circle cx="1145.2" cy="693.5" r="3.9" fill="#f0121a"/>
<circle cx="1230.39" cy="673.39" r="3.9" fill="#f0121a"/>
<circle cx="1254.73" cy="680.28" r="3.9" fill="#f0121a"/>
<circle cx="1279.07" cy="682.67" r="3.9" fill="#f0121a"/>
<circle cx="1315.58" cy="686.47" r="3.9" fill="#f0121a"/>
<circle cx="1339.92" cy="691.11" r="3.9" fill="#f0121a"/>
<circle cx="1364.26" cy="692.94" r="3.9" fill="#f0121a"/>
<circle cx="1400.77" cy="693.22" r="3.9" fill="#f0121a"/>
<text x="1422.35" y="680.82" font-size="23.5" text-anchor="middle" fill="#0a0ade" stroke="#0a0ade" stroke-width="0.45">*</text>
<text x="1433.7" y="680.82" font-size="23.5" text-anchor="middle" fill="#0a0ade" stroke="#0a0ade" stroke-width="0.45">*</text>
<text x="1445.05" y="680.82" font-size="23.5" text-anchor="middle" fill="#0a0ade" stroke="#0a0ade" stroke-width="0.45">*</text>
<text x="1422.35" y="697.22" font-size="23.5" text-anchor="middle" fill="#f0121a" stroke="#f0121a" stroke-width="0.45">*</text>
<text x="1433.7" y="697.22" font-size="23.5" text-anchor="middle" fill="#f0121a" stroke="#f0121a" stroke-width="0.45">*</text>
<text x="1445.05" y="697.22" font-size="23.5" text-anchor="middle" fill="#f0121a" stroke="#f0121a" stroke-width="0.45">*</text>
<line x1="1479.6" y1="464.8" x2="1517.7" y2="464.8" stroke="#000" stroke-width="2.8" />
<circle cx="1498.7" cy="464.8" r="4.1" fill="#000"/>
<text x="1535.3" y="472.6" font-size="29" text-anchor="start" fill="#000" >PBS</text>
<line x1="1479.6" y1="502.1" x2="1517.7" y2="502.1" stroke="#0a0ade" stroke-width="2.8" />
<circle cx="1498.7" cy="502.1" r="4.1" fill="#0a0ade"/>
<text x="1535.3" y="510.5" font-size="29" text-anchor="start" fill="#000" ><tspan font-style="italic">E. coli</tspan> WT OMVs</text>
<line x1="1479.6" y1="541.1" x2="1517.7" y2="541.1" stroke="#f0121a" stroke-width="2.8" />
<circle cx="1498.7" cy="541.1" r="4.1" fill="#f0121a"/>
<text x="1535.3" y="548.4" font-size="29" text-anchor="start" fill="#000" ><tspan font-style="italic">S. enterica</tspan> WT OMVs</text>
<text x="-1.5" y="848.8" font-size="42.5" text-anchor="start" fill="#000" font-weight="bold" >e</text>
<line x1="166.3" y1="896.65" x2="166.3" y2="1114.9" stroke="#000" stroke-width="2.5" />
<line x1="165.05" y1="1104.4" x2="468.05" y2="1104.4" stroke="#000" stroke-width="2.5" />
<line x1="156.8" y1="1104.4" x2="166.3" y2="1104.4" stroke="#000" stroke-width="2.5" />
<text x="142.6" y="1114.1" font-size="29.5" text-anchor="end" fill="#000" >0</text>
<line x1="156.8" y1="1035.6" x2="166.3" y2="1035.6" stroke="#000" stroke-width="2.5" />
<text x="142.6" y="1045.3" font-size="29.5" text-anchor="end" fill="#000" >500</text>
<line x1="156.8" y1="966.8" x2="166.3" y2="966.8" stroke="#000" stroke-width="2.5" />
<text x="142.6" y="976.5" font-size="29.5" text-anchor="end" fill="#000" >1000</text>
<line x1="156.8" y1="898" x2="166.3" y2="898" stroke="#000" stroke-width="2.5" />
<text x="142.6" y="907.7" font-size="29.5" text-anchor="end" fill="#000" >1500</text>
<line x1="166.3" y1="1104.4" x2="166.3" y2="1114.9" stroke="#000" stroke-width="2.5" />
<text x="166.6" y="1157" font-size="29.5" text-anchor="middle" fill="#000" >0</text>
<line x1="226.4" y1="1104.4" x2="226.4" y2="1114.9" stroke="#000" stroke-width="2.5" />
<text x="226.7" y="1157" font-size="29.5" text-anchor="middle" fill="#000" >5</text>
<line x1="286.5" y1="1104.4" x2="286.5" y2="1114.9" stroke="#000" stroke-width="2.5" />
<text x="286.8" y="1157" font-size="29.5" text-anchor="middle" fill="#000" >10</text>
<line x1="346.6" y1="1104.4" x2="346.6" y2="1114.9" stroke="#000" stroke-width="2.5" />
<text x="346.9" y="1157" font-size="29.5" text-anchor="middle" fill="#000" >15</text>
<line x1="406.7" y1="1104.4" x2="406.7" y2="1114.9" stroke="#000" stroke-width="2.5" />
<text x="407" y="1157" font-size="29.5" text-anchor="middle" fill="#000" >20</text>
<line x1="466.8" y1="1104.4" x2="466.8" y2="1114.9" stroke="#000" stroke-width="2.5" />
<text x="467.1" y="1157" font-size="29.5" text-anchor="middle" fill="#000" >25</text>
<text x="321.6" y="1198.1" font-size="29" text-anchor="middle" fill="#000" >Time (day)</text>
<text transform="translate(24.3,1001.7) rotate(-90)" font-size="29" text-anchor="middle" >Tumor volume</text>
<text transform="translate(58.1,1001.7) rotate(-90)" font-size="29" text-anchor="middle" >(mm<tspan dy="-14" font-size="17">3</tspan><tspan dy="14">)</tspan></text>
<line x1="238.42" y1="1075.23" x2="238.42" y2="1082.38" stroke="#000" stroke-width="2.9" />
<line x1="233.67" y1="1075.23" x2="243.17" y2="1075.23" stroke="#000" stroke-width="2.9" />
<line x1="233.67" y1="1082.38" x2="243.17" y2="1082.38" stroke="#000" stroke-width="2.9" />
<line x1="322.56" y1="1048.12" x2="322.56" y2="1064.63" stroke="#000" stroke-width="2.9" />
<line x1="317.81" y1="1048.12" x2="327.31" y2="1048.12" stroke="#000" stroke-width="2.9" />
<line x1="317.81" y1="1064.63" x2="327.31" y2="1064.63" stroke="#000" stroke-width="2.9" />
<line x1="370.64" y1="969.55" x2="370.64" y2="1040.42" stroke="#000" stroke-width="2.9" />
<line x1="365.89" y1="969.55" x2="375.39" y2="969.55" stroke="#000" stroke-width="2.9" />
<line x1="365.89" y1="1040.42" x2="375.39" y2="1040.42" stroke="#000" stroke-width="2.9" />
<line x1="406.7" y1="919.33" x2="406.7" y2="966.11" stroke="#000" stroke-width="2.9" />
<line x1="401.95" y1="919.33" x2="411.45" y2="919.33" stroke="#000" stroke-width="2.9" />
<line x1="401.95" y1="966.11" x2="411.45" y2="966.11" stroke="#000" stroke-width="2.9" />
<polyline points="166.3,1104.4 238.42,1078.26 286.5,1072.89 322.56,1056.65 370.64,1005.19 406.7,942.17" fill="none" stroke="#000" stroke-width="3.0" stroke-linejoin="round"/>
<circle cx="166.3" cy="1104.4" r="3.7" fill="#000"/>
<circle cx="238.42" cy="1078.26" r="3.7" fill="#000"/>
<circle cx="286.5" cy="1072.89" r="3.7" fill="#000"/>
<circle cx="322.56" cy="1056.65" r="3.7" fill="#000"/>
<circle cx="370.64" cy="1005.19" r="3.7" fill="#000"/>
<circle cx="406.7" cy="942.17" r="3.7" fill="#000"/>
<line x1="370.64" y1="1082.11" x2="370.64" y2="1087.89" stroke="#0a0ade" stroke-width="2.9" />
<line x1="365.89" y1="1082.11" x2="375.39" y2="1082.11" stroke="#0a0ade" stroke-width="2.9" />
<line x1="365.89" y1="1087.89" x2="375.39" y2="1087.89" stroke="#0a0ade" stroke-width="2.9" />
<line x1="406.7" y1="1065.87" x2="406.7" y2="1073.85" stroke="#0a0ade" stroke-width="2.9" />
<line x1="401.95" y1="1065.87" x2="411.45" y2="1065.87" stroke="#0a0ade" stroke-width="2.9" />
<line x1="401.95" y1="1073.85" x2="411.45" y2="1073.85" stroke="#0a0ade" stroke-width="2.9" />
<polyline points="166.3,1104.4 238.42,1085.96 286.5,1086.24 322.56,1092.15 370.64,1084.59 406.7,1069.59" fill="none" stroke="#0a0ade" stroke-width="3.0" stroke-linejoin="round"/>
<circle cx="166.3" cy="1104.4" r="3.7" fill="#0a0ade"/>
<circle cx="238.42" cy="1085.96" r="3.7" fill="#0a0ade"/>
<circle cx="286.5" cy="1086.24" r="3.7" fill="#0a0ade"/>
<circle cx="322.56" cy="1092.15" r="3.7" fill="#0a0ade"/>
<circle cx="370.64" cy="1084.59" r="3.7" fill="#0a0ade"/>
<circle cx="406.7" cy="1069.59" r="3.7" fill="#0a0ade"/>
<line x1="286.5" y1="1081.7" x2="286.5" y2="1093.94" stroke="#1b9aad" stroke-width="2.9" />
<line x1="281.75" y1="1081.7" x2="291.25" y2="1081.7" stroke="#1b9aad" stroke-width="2.9" />
<line x1="281.75" y1="1093.94" x2="291.25" y2="1093.94" stroke="#1b9aad" stroke-width="2.9" />
<line x1="322.56" y1="1088.85" x2="322.56" y2="1094.63" stroke="#1b9aad" stroke-width="2.9" />
<line x1="317.81" y1="1088.85" x2="327.31" y2="1088.85" stroke="#1b9aad" stroke-width="2.9" />
<line x1="317.81" y1="1094.63" x2="327.31" y2="1094.63" stroke="#1b9aad" stroke-width="2.9" />
<line x1="406.7" y1="1065.18" x2="406.7" y2="1083.76" stroke="#1b9aad" stroke-width="2.9" />
<line x1="401.95" y1="1065.18" x2="411.45" y2="1065.18" stroke="#1b9aad" stroke-width="2.9" />
<line x1="401.95" y1="1083.76" x2="411.45" y2="1083.76" stroke="#1b9aad" stroke-width="2.9" />
<polyline points="166.3,1104.4 238.42,1088.85 286.5,1087.48 322.56,1092.57 370.64,1092.57 406.7,1078.94" fill="none" stroke="#1b9aad" stroke-width="3.0" stroke-linejoin="round"/>
<circle cx="166.3" cy="1104.4" r="3.7" fill="#1b9aad"/>
<circle cx="238.42" cy="1088.85" r="3.7" fill="#1b9aad"/>
<circle cx="286.5" cy="1087.48" r="3.7" fill="#1b9aad"/>
<circle cx="322.56" cy="1092.57" r="3.7" fill="#1b9aad"/>
<circle cx="370.64" cy="1092.57" r="3.7" fill="#1b9aad"/>
<circle cx="406.7" cy="1078.94" r="3.7" fill="#1b9aad"/>
<line x1="370.64" y1="1089.54" x2="370.64" y2="1102.47" stroke="#f0121a" stroke-width="2.9" />
<line x1="365.89" y1="1089.54" x2="375.39" y2="1089.54" stroke="#f0121a" stroke-width="2.9" />
<line x1="365.89" y1="1102.47" x2="375.39" y2="1102.47" stroke="#f0121a" stroke-width="2.9" />
<line x1="406.7" y1="1082.93" x2="406.7" y2="1102.06" stroke="#f0121a" stroke-width="2.9" />
<line x1="401.95" y1="1082.93" x2="411.45" y2="1082.93" stroke="#f0121a" stroke-width="2.9" />
<line x1="401.95" y1="1102.06" x2="411.45" y2="1102.06" stroke="#f0121a" stroke-width="2.9" />
<polyline points="166.3,1104.4 238.42,1083.9 286.5,1088.85 322.56,1098.62 370.64,1096.14 406.7,1092.84" fill="none" stroke="#f0121a" stroke-width="3.0" stroke-linejoin="round"/>
<circle cx="166.3" cy="1104.4" r="3.9" fill="#f0121a"/>
<circle cx="238.42" cy="1083.9" r="3.9" fill="#f0121a"/>
<circle cx="286.5" cy="1088.85" r="3.9" fill="#f0121a"/>
<circle cx="322.56" cy="1098.62" r="3.9" fill="#f0121a"/>
<circle cx="370.64" cy="1096.14" r="3.9" fill="#f0121a"/>
<circle cx="406.7" cy="1092.84" r="3.9" fill="#f0121a"/>
<text x="423.15" y="1073.32" font-size="23.5" text-anchor="middle" fill="#0a0ade" stroke="#0a0ade" stroke-width="0.45">*</text>
<text x="434.5" y="1073.32" font-size="23.5" text-anchor="middle" fill="#0a0ade" stroke="#0a0ade" stroke-width="0.45">*</text>
<text x="445.85" y="1073.32" font-size="23.5" text-anchor="middle" fill="#0a0ade" stroke="#0a0ade" stroke-width="0.45">*</text>
<text x="423.15" y="1090.72" font-size="23.5" text-anchor="middle" fill="#1b9aad" stroke="#1b9aad" stroke-width="0.45">*</text>
<text x="434.5" y="1090.72" font-size="23.5" text-anchor="middle" fill="#1b9aad" stroke="#1b9aad" stroke-width="0.45">*</text>
<text x="445.85" y="1090.72" font-size="23.5" text-anchor="middle" fill="#1b9aad" stroke="#1b9aad" stroke-width="0.45">*</text>
<text x="423.15" y="1106.52" font-size="23.5" text-anchor="middle" fill="#f0121a" stroke="#f0121a" stroke-width="0.45">*</text>
<text x="434.5" y="1106.52" font-size="23.5" text-anchor="middle" fill="#f0121a" stroke="#f0121a" stroke-width="0.45">*</text>
<text x="445.85" y="1106.52" font-size="23.5" text-anchor="middle" fill="#f0121a" stroke="#f0121a" stroke-width="0.45">*</text>
<line x1="483" y1="895.5" x2="520.5" y2="895.5" stroke="#000" stroke-width="2.8" />
<circle cx="502" cy="895.5" r="4.1" fill="#000"/>
<text x="539" y="904.3" font-size="29" text-anchor="start" fill="#000" >PBS</text>
<line x1="483" y1="929.5" x2="520.5" y2="929.5" stroke="#0a0ade" stroke-width="2.8" />
<circle cx="502" cy="929.5" r="4.1" fill="#0a0ade"/>
<text x="539" y="938.3" font-size="29" text-anchor="start" fill="#000" ><tspan font-style="italic">S. aureus</tspan> WT EVs</text>
<line x1="483" y1="963.9" x2="520.5" y2="963.9" stroke="#f0121a" stroke-width="2.8" />
<circle cx="502" cy="963.9" r="4.1" fill="#f0121a"/>
<text x="539" y="972.6" font-size="29" text-anchor="start" fill="#000" ><tspan font-style="italic">S. aureus</tspan> LTA mutant EVs</text>
<line x1="483" y1="998.4" x2="520.5" y2="998.4" stroke="#1b9aad" stroke-width="2.8" />
<circle cx="502" cy="998.4" r="4.1" fill="#1b9aad"/>
<text x="539" y="1007.2" font-size="29" text-anchor="start" fill="#000" ><tspan font-style="italic">L. acidophilus</tspan> WT EVs</text>
</svg></body></html>
